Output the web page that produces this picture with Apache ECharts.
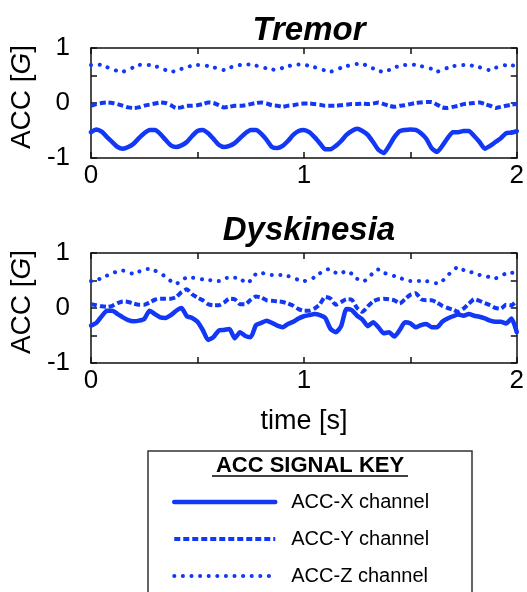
<!DOCTYPE html>
<html>
<head>
<meta charset="utf-8">
<script src="https://cdn.jsdelivr.net/npm/echarts@6/dist/echarts.min.js"></script>
<style>
html,body{margin:0;padding:0;background:#fff;}
#chart{width:527px;height:592px;}
</style>
</head>
<body>
<div id="chart"></div>
<script>
// sampling step of the traces (s)
const dt = 0.025;
const xTickLabels = ['0', '1', '2'];
const yTickLabels = ['-1', '0', '1'];
const seriesNames = ['ACC-X channel', 'ACC-Y channel', 'ACC-Z channel'];
const panelTitles = ['Tremor', 'Dyskinesia'];

const tremorX = [-0.53,-0.48,-0.52,-0.62,-0.71,-0.80,-0.83,-0.80,-0.74,-0.64,-0.55,-0.49,-0.49,-0.56,-0.67,-0.77,-0.80,-0.77,-0.71,-0.60,-0.51,-0.49,-0.55,-0.65,-0.76,-0.80,-0.78,-0.73,-0.64,-0.55,-0.49,-0.49,-0.56,-0.67,-0.80,-0.82,-0.78,-0.69,-0.58,-0.51,-0.49,-0.53,-0.62,-0.73,-0.84,-0.84,-0.78,-0.69,-0.58,-0.51,-0.47,-0.51,-0.58,-0.71,-0.85,-0.91,-0.78,-0.62,-0.51,-0.49,-0.48,-0.49,-0.55,-0.65,-0.82,-0.89,-0.78,-0.64,-0.53,-0.53,-0.51,-0.51,-0.60,-0.71,-0.83,-0.78,-0.71,-0.64,-0.55,-0.54,-0.51];
const tremorY = [-0.05,-0.02,0.00,0.01,0.00,-0.02,-0.05,-0.08,-0.09,-0.08,-0.05,-0.03,-0.01,0.01,0.00,-0.04,-0.09,-0.08,-0.05,-0.05,-0.04,-0.02,0.01,0.00,-0.04,-0.08,-0.07,-0.05,-0.05,-0.04,-0.02,0.00,0.01,-0.01,-0.04,-0.05,-0.07,-0.05,-0.04,-0.02,-0.01,-0.01,-0.02,-0.03,-0.05,-0.05,-0.05,-0.04,-0.03,-0.02,-0.02,-0.01,-0.02,-0.01,0.01,-0.02,-0.05,-0.07,-0.05,-0.04,-0.02,0.00,0.01,0.02,0.02,-0.03,-0.08,-0.09,-0.07,-0.05,-0.02,-0.01,0.00,0.01,-0.02,-0.05,-0.09,-0.07,-0.05,-0.03,-0.02];
const tremorZ = [0.69,0.70,0.69,0.65,0.62,0.58,0.57,0.61,0.65,0.69,0.70,0.69,0.67,0.64,0.60,0.57,0.58,0.62,0.65,0.68,0.69,0.69,0.67,0.65,0.62,0.60,0.64,0.67,0.69,0.70,0.70,0.68,0.65,0.63,0.61,0.60,0.64,0.67,0.69,0.70,0.70,0.67,0.65,0.62,0.59,0.57,0.60,0.64,0.67,0.69,0.71,0.71,0.67,0.63,0.59,0.56,0.60,0.65,0.67,0.69,0.70,0.69,0.67,0.65,0.62,0.57,0.60,0.64,0.67,0.68,0.69,0.69,0.67,0.65,0.61,0.60,0.64,0.67,0.69,0.69,0.65];

const dyskX = [-0.32,-0.27,-0.15,-0.05,-0.05,-0.11,-0.17,-0.22,-0.24,-0.23,-0.20,-0.05,-0.11,-0.17,-0.18,-0.13,-0.05,0.00,-0.15,-0.18,-0.25,-0.40,-0.58,-0.53,-0.41,-0.40,-0.38,-0.55,-0.44,-0.51,-0.53,-0.31,-0.27,-0.23,-0.27,-0.32,-0.35,-0.29,-0.25,-0.19,-0.15,-0.13,-0.11,-0.13,-0.18,-0.38,-0.44,-0.33,-0.02,-0.04,-0.14,-0.21,-0.33,-0.26,-0.35,-0.46,-0.44,-0.52,-0.40,-0.26,-0.28,-0.35,-0.31,-0.29,-0.35,-0.35,-0.25,-0.19,-0.15,-0.12,-0.14,-0.11,-0.14,-0.16,-0.19,-0.23,-0.25,-0.25,-0.28,-0.19,-0.44];
const dyskY = [0.07,0.05,0.03,0.02,0.04,0.09,0.12,0.11,0.08,0.06,0.06,0.10,0.15,0.17,0.17,0.17,0.20,0.29,0.34,0.25,0.19,0.14,0.07,0.05,0.05,0.10,0.17,0.16,0.07,0.07,0.15,0.21,0.19,0.14,0.13,0.12,0.11,0.08,0.04,-0.02,-0.05,-0.05,-0.01,0.07,0.20,0.17,0.06,0.11,0.16,0.15,0.00,-0.07,0.03,0.12,0.16,0.17,0.16,0.14,0.08,0.16,0.24,0.27,0.16,0.14,0.14,0.10,0.04,0.00,-0.03,-0.07,-0.01,0.08,0.16,0.13,0.09,0.05,0.00,-0.01,0.06,0.05,0.13];
const dyskZ = [0.49,0.50,0.55,0.59,0.64,0.66,0.68,0.65,0.62,0.66,0.71,0.71,0.68,0.63,0.57,0.49,0.44,0.51,0.55,0.55,0.54,0.52,0.51,0.50,0.49,0.54,0.55,0.55,0.55,0.45,0.50,0.62,0.64,0.61,0.60,0.60,0.60,0.58,0.55,0.51,0.49,0.51,0.56,0.63,0.69,0.71,0.64,0.63,0.68,0.62,0.53,0.48,0.53,0.64,0.70,0.64,0.61,0.58,0.55,0.51,0.49,0.49,0.49,0.49,0.46,0.45,0.49,0.59,0.68,0.75,0.69,0.66,0.64,0.60,0.58,0.56,0.54,0.58,0.63,0.64,0.63];

const BLUE = '#1238f5';
const FONT = 'Liberation Sans';

function pairs(arr) { return arr.map((v, i) => [+(i * dt).toFixed(3), v]); }

const lineStyles = [
  { width: 4.5, type: 'solid', cap: 'round', join: 'round' },
  { width: 4, type: [6, 3], cap: 'butt', join: 'round' },
  { width: 4, type: [0.1, 8.5], cap: 'round', join: 'round' }
];

const panels = [[tremorX, tremorY, tremorZ], [dyskX, dyskY, dyskZ]];
const gridTops = [48, 253];

const grids = gridTops.map(t => ({ left: 90, top: t, width: 428, height: 110 }));
const xAxes = [], yAxes = [], series = [];
gridTops.forEach((t, g) => {
  const common = {
    gridIndex: g, type: 'value', min: 0, max: 2, interval: 0.5,
    axisLine: { show: true, onZero: false, lineStyle: { color: '#111', width: 1.5 } },
    axisTick: { show: true, inside: true, length: 6, lineStyle: { color: '#111', width: 1.5 } },
    splitLine: { show: false }
  };
  xAxes.push(Object.assign({}, common, {
    position: 'bottom',
    axisLabel: { show: true, margin: 5, color: '#000', fontFamily: FONT, fontSize: 26,
      formatter: v => xTickLabels.includes(String(v)) ? String(v) : '' },
    name: g === 1 ? 'time [s]' : '', nameLocation: 'middle', nameGap: 45,
    nameTextStyle: { color: '#000', fontFamily: FONT, fontSize: 27 }
  }));
  xAxes.push(Object.assign({}, common, { position: 'top', axisLabel: { show: false } }));
  const ycommon = {
    gridIndex: g, type: 'value', min: -1, max: 1, interval: 0.5,
    axisLine: { show: true, onZero: false, lineStyle: { color: '#111', width: 1.5 } },
    axisTick: { show: true, inside: true, length: 6, lineStyle: { color: '#111', width: 1.5 } },
    splitLine: { show: false }
  };
  yAxes.push(Object.assign({}, ycommon, {
    position: 'left',
    axisLabel: { show: true, margin: 21, color: '#000', fontFamily: FONT, fontSize: 26,
      formatter: v => yTickLabels.includes(String(v)) ? String(v) : '' },
    name: 'ACC [{i|G}]', nameLocation: 'middle', nameRotate: 90, nameGap: 55,
    nameTextStyle: { color: '#000', fontFamily: FONT, fontSize: 28, padding: [0, 0, 0, 12],
      rich: { i: { fontStyle: 'italic', fontFamily: FONT, fontSize: 28, color: '#000' } } }
  }));
  yAxes.push(Object.assign({}, ycommon, { position: 'right', axisLabel: { show: false } }));
  panels[g].forEach((arr, k) => {
    series.push({
      type: 'line', name: seriesNames[k], xAxisIndex: g * 2, yAxisIndex: g * 2,
      data: pairs(arr), symbol: 'none', smooth: 0.2,
      lineStyle: Object.assign({ color: BLUE }, lineStyles[k]),
      itemStyle: { color: BLUE }, z: 3 - k
    });
  });
});

const chart = echarts.init(document.getElementById('chart'), null, { renderer: 'canvas' });
chart.setOption({
  animation: false,
  backgroundColor: '#fff',
  title: panelTitles.map((t, i) => ({
    text: t, left: 304, textAlign: 'center', top: i === 0 ? 9 : 209,
    textStyle: { fontFamily: FONT, fontSize: 33, fontWeight: 'bold', fontStyle: 'italic', color: '#000' }
  })),
  grid: grids,
  xAxis: xAxes,
  yAxis: yAxes,
  legend: {
    data: seriesNames, orient: 'vertical', left: 172, top: 492, padding: 0,
    itemWidth: 101, itemHeight: 20, itemGap: 17,
    textStyle: { fontFamily: FONT, fontSize: 20, color: '#000', padding: [0, 0, 0, 11], lineHeight: 20 },
    lineStyle: { width: 'inherit' },
    itemStyle: { opacity: 0, borderWidth: 0 },
    selectedMode: false
  },
  graphic: [
    { type: 'rect', shape: { x: 148, y: 451, width: 324, height: 170 },
      style: { fill: 'none', stroke: '#333', lineWidth: 1.5 }, silent: true },
    { type: 'text', x: 310, y: 466,
      style: { text: 'ACC SIGNAL KEY', fill: '#000', font: 'bold 22px "Liberation Sans"', align: 'center', verticalAlign: 'middle' } },
    { type: 'line', shape: { x1: 212, y1: 476, x2: 408, y2: 476 }, style: { stroke: '#000', lineWidth: 1.5 } }
  ],
  series: series
});
</script>
</body>
</html>
